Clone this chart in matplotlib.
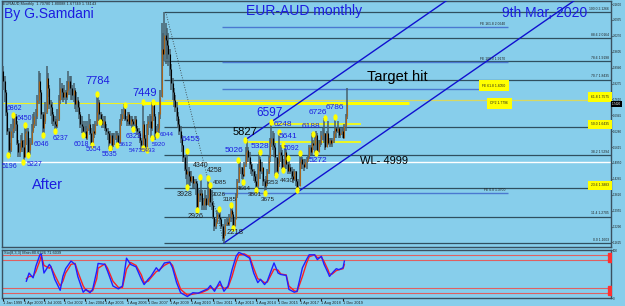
import matplotlib
matplotlib.use("Agg")
import matplotlib.pyplot as plt
import numpy as np
from matplotlib.markers import MarkerStyle
from matplotlib.transforms import Affine2D

plt.rcParams['font.family'] = ['Liberation Sans', 'DejaVu Sans']

# ---- monthly EUR/AUD bars, Jan 1999 .. Mar 2020 (month index 0 = Jan 1999)
first_open = 1.88
closes = [
    1.84, 1.79, 1.71, 1.63, 1.55, 1.55, 1.63, 1.64, 1.69, 1.66, 1.58, 1.54,   # 1999
    1.56, 1.59, 1.56, 1.52, 1.62, 1.63, 1.54, 1.55, 1.58, 1.63, 1.66, 1.69,   # 2000
    1.69, 1.76, 1.84, 1.79, 1.70, 1.64, 1.67, 1.71, 1.85, 1.81, 1.74, 1.73,   # 2001
    1.70, 1.67, 1.66, 1.65, 1.68, 1.76, 1.81, 1.79, 1.77, 1.79, 1.77, 1.80,   # 2002
    1.84, 1.81, 1.81, 1.78, 1.80, 1.74, 1.76, 1.73, 1.70, 1.66, 1.65, 1.63,   # 2003
    1.63, 1.60, 1.64, 1.66, 1.62, 1.58, 1.63, 1.62, 1.66, 1.71, 1.75, 1.70,   # 2004
    1.68, 1.66, 1.67, 1.64, 1.63, 1.62, 1.58, 1.61, 1.57, 1.60, 1.60, 1.61,   # 2005
    1.61, 1.58, 1.66, 1.68, 1.70, 1.72, 1.68, 1.67, 1.70, 1.66, 1.68, 1.67,   # 2006
    1.66, 1.68, 1.64, 1.63, 1.62, 1.59, 1.57, 1.66, 1.60, 1.56, 1.66, 1.67,   # 2007
    1.67, 1.64, 1.74, 1.69, 1.62, 1.63, 1.64, 1.70, 1.77, 1.97, 1.95, 2.03,   # 2008
    2.01, 1.99, 1.95, 1.89, 1.83, 1.79, 1.76, 1.73, 1.69, 1.66, 1.63, 1.60,   # 2009
    1.57, 1.52, 1.47, 1.45, 1.46, 1.44, 1.42, 1.44, 1.41, 1.42, 1.41, 1.31,   # 2010
    1.37, 1.36, 1.37, 1.32, 1.34, 1.35, 1.32, 1.35, 1.39, 1.33, 1.32, 1.27,   # 2011
    1.23, 1.25, 1.28, 1.27, 1.26, 1.23, 1.18, 1.20, 1.24, 1.25, 1.24, 1.27,   # 2012
    1.30, 1.28, 1.23, 1.26, 1.36, 1.42, 1.48, 1.48, 1.45, 1.44, 1.49, 1.54,   # 2013
    1.55, 1.52, 1.49, 1.47, 1.46, 1.44, 1.42, 1.40, 1.47, 1.51, 1.46, 1.48,   # 2014
    1.42, 1.40, 1.41, 1.46, 1.52, 1.58, 1.60, 1.57, 1.56, 1.52, 1.46, 1.49,   # 2015
    1.54, 1.53, 1.48, 1.49, 1.54, 1.49, 1.46, 1.48, 1.46, 1.44, 1.43, 1.46,   # 2016
    1.42, 1.39, 1.40, 1.50, 1.51, 1.49, 1.48, 1.50, 1.51, 1.52, 1.56, 1.54,   # 2017
    1.58, 1.57, 1.60, 1.61, 1.54, 1.58, 1.58, 1.61, 1.61, 1.62, 1.56, 1.62,   # 2018
    1.58, 1.59, 1.58, 1.59, 1.62, 1.64, 1.63, 1.64, 1.61, 1.62, 1.63, 1.60,   # 2019
    1.65, 1.69, 1.742,                                                        # 2020
]
highs = [
    1.90, 1.86, 1.80, 1.72, 1.64, 1.58, 1.66, 1.70, 1.70, 1.70, 1.67, 1.59,
    1.58, 1.61, 1.62, 1.59, 1.66, 1.65, 1.64, 1.59, 1.60, 1.66, 1.70, 1.71,
    1.72, 1.78, 1.88, 1.87, 1.80, 1.71, 1.71, 1.75, 1.90, 1.87, 1.82, 1.76,
    1.75, 1.71, 1.69, 1.68, 1.72, 1.78, 1.85, 1.83, 1.81, 1.82, 1.80, 1.84,
    1.88, 1.86, 1.86, 1.82, 1.83, 1.81, 1.79, 1.77, 1.75, 1.71, 1.69, 1.67,
    1.67, 1.65, 1.67, 1.70, 1.68, 1.64, 1.66, 1.66, 1.67, 1.78, 1.77, 1.76,
    1.71, 1.70, 1.69, 1.69, 1.66, 1.64, 1.63, 1.63, 1.62, 1.62, 1.62, 1.63,
    1.63, 1.62, 1.68, 1.70, 1.72, 1.74, 1.72, 1.69, 1.71, 1.71, 1.69, 1.69,
    1.68, 1.69, 1.69, 1.65, 1.64, 1.63, 1.60, 1.75, 1.67, 1.61, 1.66, 1.69,
    1.70, 1.69, 1.75, 1.74, 1.70, 1.65, 1.66, 1.71, 1.80, 2.08, 2.04, 2.1266,
    2.08, 2.06, 2.04, 1.97, 1.91, 1.85, 1.81, 1.78, 1.75, 1.71, 1.68, 1.65,
    1.61, 1.57, 1.53, 1.49, 1.55, 1.48, 1.46, 1.46, 1.44, 1.43, 1.43, 1.42,
    1.39, 1.38, 1.43, 1.38, 1.35, 1.38, 1.36, 1.43, 1.41, 1.40, 1.38, 1.33,
    1.27, 1.26, 1.30, 1.30, 1.30, 1.27, 1.24, 1.21, 1.26, 1.27, 1.26, 1.28,
    1.32, 1.32, 1.29, 1.27, 1.37, 1.43, 1.50, 1.50, 1.48, 1.47, 1.50, 1.56,
    1.59, 1.56, 1.54, 1.50, 1.49, 1.47, 1.46, 1.45, 1.49, 1.54, 1.52, 1.50,
    1.47, 1.43, 1.44, 1.47, 1.53, 1.60, 1.666, 1.63, 1.62, 1.58, 1.52, 1.51,
    1.62, 1.57, 1.55, 1.51, 1.57, 1.55, 1.50, 1.51, 1.49, 1.48, 1.46, 1.47,
    1.46, 1.42, 1.43, 1.54, 1.53, 1.52, 1.51, 1.51, 1.52, 1.53, 1.57, 1.57,
    1.62, 1.59, 1.61, 1.63, 1.62, 1.59, 1.59, 1.63, 1.64, 1.683, 1.62, 1.63,
    1.67, 1.60, 1.60, 1.60, 1.63, 1.687, 1.64, 1.67, 1.64, 1.64, 1.64, 1.64,
    1.66, 1.70, 1.81,
]
lows = [
    1.80, 1.75, 1.69, 1.61, 1.53, 1.52, 1.54, 1.60, 1.62, 1.63, 1.57, 1.52,
    1.52, 1.55, 1.54, 1.50, 1.52, 1.57, 1.53, 1.53, 1.53, 1.57, 1.62, 1.64,
    1.65, 1.68, 1.74, 1.76, 1.68, 1.60, 1.62, 1.66, 1.70, 1.77, 1.72, 1.69,
    1.66, 1.65, 1.63, 1.62, 1.64, 1.67, 1.74, 1.76, 1.75, 1.76, 1.74, 1.76,
    1.78, 1.78, 1.76, 1.76, 1.75, 1.72, 1.71, 1.71, 1.68, 1.64, 1.62, 1.61,
    1.61, 1.60, 1.59, 1.63, 1.61, 1.57, 1.58, 1.60, 1.61, 1.65, 1.67, 1.67,
    1.66, 1.64, 1.64, 1.63, 1.61, 1.59, 1.555, 1.58, 1.55, 1.56, 1.57, 1.59,
    1.57, 1.56, 1.58, 1.65, 1.67, 1.68, 1.67, 1.65, 1.66, 1.65, 1.65, 1.64,
    1.63, 1.65, 1.63, 1.61, 1.60, 1.58, 1.55, 1.56, 1.59, 1.55, 1.55, 1.61,
    1.64, 1.60, 1.63, 1.67, 1.59, 1.60, 1.60, 1.62, 1.68, 1.77, 1.90, 1.92,
    1.91, 1.93, 1.90, 1.86, 1.80, 1.76, 1.73, 1.71, 1.67, 1.64, 1.61, 1.58,
    1.54, 1.50, 1.46, 1.43, 1.39, 1.40, 1.40, 1.41, 1.39, 1.39, 1.36, 1.29,
    1.30, 1.33, 1.34, 1.30, 1.30, 1.32, 1.30, 1.32, 1.33, 1.31, 1.30, 1.26,
    1.21, 1.22, 1.24, 1.26, 1.24, 1.22, 1.17, 1.1603, 1.19, 1.23, 1.23, 1.23,
    1.25, 1.26, 1.22, 1.23, 1.26, 1.35, 1.41, 1.45, 1.43, 1.40, 1.44, 1.48,
    1.50, 1.50, 1.47, 1.45, 1.44, 1.42, 1.41, 1.38, 1.39, 1.46, 1.43, 1.45,
    1.40, 1.37, 1.38, 1.40, 1.45, 1.50, 1.56, 1.55, 1.52, 1.44, 1.44, 1.45,
    1.48, 1.50, 1.47, 1.46, 1.47, 1.47, 1.45, 1.46, 1.45, 1.43, 1.41, 1.42,
    1.40, 1.38, 1.38, 1.40, 1.47, 1.47, 1.46, 1.48, 1.47, 1.50, 1.51, 1.53,
    1.53, 1.55, 1.537, 1.59, 1.53, 1.54, 1.56, 1.57, 1.59, 1.58, 1.55, 1.56,
    1.57, 1.56, 1.57, 1.56, 1.58, 1.60, 1.60, 1.62, 1.60, 1.60, 1.61, 1.60,
    1.60, 1.63, 1.68,
]

# ---- yellow swing markers (month index, price)
marker_months = [3.4, 7.1, 16.0, 14.5, 18.2, 29.3, 38.1, 58.8, 65.5, 69.2, 71.4, 78.8,
                 84.0, 89.9, 95.8, 103.4, 110.5, 103.4, 106.1, 109.8, 113.5, 135.7,
                 135.7, 143.1, 145.3, 151.2, 152.7, 159.3, 168.2, 169.7, 173.4, 178.6,
                 177.1, 189.7, 186.7, 193.3, 197.8, 203.7, 206.6, 201.5, 206.6, 210.3,
                 217.0, 219.2, 228.8, 231.0, 237.7, 245.1]
marker_prices = [1.528, 1.696, 1.654, 1.499, 1.528, 1.612, 1.629, 1.612, 1.570, 1.784,
                 1.667, 1.558, 1.570, 1.738, 1.637, 1.750, 1.750, 1.558, 1.549, 1.600,
                 1.612, 1.545, 1.395, 1.298, 1.436, 1.432, 1.403, 1.302, 1.319, 1.223,
                 1.507, 1.591, 1.415, 1.541, 1.382, 1.369, 1.666, 1.625, 1.570, 1.445,
                 1.466, 1.516, 1.382, 1.537, 1.616, 1.537, 1.683, 1.687]

# ---- Fibonacci retracement 2008 high -> 2012 low
fib_low, fib_high = 1.1603, 2.1266
fib_ratios = [0.0, 11.4, 23.6, 38.2, 50.0, 61.8, 70.7, 78.6, 88.6, 100.0]
fib_marked = [23.6, 50.0, 61.8]

# ---- Fibonacci expansion levels
fe_names = ["FE 161.8", "FE 100.0", "FE 61.8", "FE 0.0"]
fe_prices = [2.0640, 1.9170, 1.8050, 1.3700]

# ---- other levels
wl_price = 1.4999
yellow_levels = [1.7449, 1.6597, 1.5827]
yellow_from = [104, 198, 179]

# ---- trend channel anchors
chan_months = [163.0, 178.6]
chan_prices = [1.1603, 1.5910]
chan_slope = 0.003917           # price per month

# ---- stochastic (8,3,3)
sto_m = [17, 19, 22, 24, 27, 28, 30, 34, 35, 38, 42, 44, 46, 50, 53, 55, 59, 61, 64, 66,
         69, 70, 75, 77, 81, 85, 88, 91, 94, 98, 102, 104, 107, 109, 113, 115, 119, 123, 125, 128,
         131, 136, 140, 144, 147, 151, 153, 156, 160, 163, 166, 169, 172, 174, 178, 182, 185, 188, 190, 193,
         195, 200, 203, 205, 209, 211, 215, 217, 221, 224, 226, 230, 232, 235, 237, 240, 241, 243, 246, 248,
         251, 252]
sto_main = [35, 52, 42, 66, 90, 92, 52, 70, 66, 39, 16, 45, 61, 77, 70, 45, 12, 18, 11, 18,
            56, 72, 70, 56, 25, 19, 25, 83, 70, 65, 39, 28, 39, 45, 63, 56, 73, 75, 63, 32,
            11, 3, 11, 10, 14, 19, 26, 14, 35, 14, 25, 59, 87, 95, 90, 83, 52, 32, 39, 28,
            35, 73, 52, 49, 47, 18, 12, 14, 63, 80, 90, 90, 80, 87, 70, 52, 45, 52, 61, 59,
            63, 77]
sto_signal = [40, 45, 45, 55, 78, 88, 68, 62, 66, 48, 25, 35, 52, 70, 72, 55, 25, 16, 14, 15,
              40, 62, 71, 62, 35, 22, 22, 60, 74, 68, 48, 32, 35, 42, 55, 58, 68, 74, 68, 42,
              18, 6, 8, 10, 12, 17, 22, 18, 28, 20, 22, 45, 75, 90, 92, 86, 62, 40, 38, 32,
              33, 60, 58, 50, 48, 25, 15, 13, 45, 72, 86, 90, 84, 85, 76, 58, 50, 50, 57, 59,
              61, 70]
sto_levels = [90, 80, 20, 10]

tick_months = [0, 15, 30, 45, 60, 75, 91, 107, 123, 139, 155, 171, 187, 203, 219, 235, 251]
tick_labels = ["1 Jan 1999", "1 Apr 2000", "1 Jul 2001", "1 Oct 2002", "1 Jan 2004",
               "1 Apr 2005", "1 Aug 2006", "1 Dec 2007", "1 Apr 2009", "1 Aug 2010",
               "1 Dec 2011", "1 Apr 2013", "1 Aug 2014", "1 Dec 2015", "1 Apr 2017",
               "1 Aug 2018", "1 Dec 2019"]

# ---------------------------------------------------------------- drawing
BG = '#87CEEB'
BLUE = '#1c1ce0'
FIBC = '#2f4f5f'
W, H = 625, 306
XMAX = 449

fig = plt.figure(figsize=(W / 100, H / 100), dpi=100)
fig.patch.set_facecolor(BG)
ax = fig.add_axes([2 / W, 59 / H, 609 / W, 246 / H], facecolor=BG)
sub = fig.add_axes([2 / W, 8 / H, 609 / W, 48 / H], facecolor=BG)

top = fib_high + 11 * (fib_high - fib_low) / 231
bot = fib_low - 4 * (fib_high - fib_low) / 231
ax.set_xlim(-1, XMAX)
ax.set_ylim(bot, top)


def at(x, y):
    # screenshot pixel -> main axes fraction
    return (x - 2) / 609, 1 - (y - 1) / 246


closes = np.array(closes)
months = np.arange(len(closes))
opens = np.r_[first_open, closes[:-1]]

# fib lines
fib_prices = [fib_low + r / 100 * (fib_high - fib_low) for r in fib_ratios]
for r, p in zip(fib_ratios, fib_prices):
    col = '#d8d860' if r == 61.8 else FIBC
    ax.hlines(p, 119, XMAX, color=col, lw=0.9, zorder=1)
    box = dict(fc='yellow', ec='none', pad=2.0) if r in fib_marked else None
    ax.text(XMAX - 1.5, p + 0.005, f"{r:.1f} {p:.4f}", fontsize=2.4, color='#202020',
            ha='right', va='bottom', bbox=box, zorder=5)

# FE lines
for name, p in zip(fe_names, fe_prices):
    ax.hlines(p, 161.6, 373, color='#4a78d0', lw=1.0, zorder=1)
    box = dict(fc='yellow', ec='none', pad=2.5) if name == "FE 61.8" else None
    ax.text(371, p + 0.005, f"{name} {p:.4f}", fontsize=2.4, color='#202020',
            ha='right', va='bottom', bbox=box, zorder=5)
ax.text(373, 1.745, "CP2 1.7796", fontsize=2.4, color='#202020', ha='right', va='center',
        bbox=dict(fc='yellow', ec='none', pad=2.5), zorder=5)

# white WL line, yellow levels
ax.axhline(wl_price, color='white', lw=1.0, zorder=1)
ax.hlines(yellow_levels[0], -1, yellow_from[0], color='#f0f020', lw=0.8, zorder=2)
ax.hlines(yellow_levels[0], yellow_from[0], 300, color='#ffff00', lw=2.2, zorder=2)
for p, m0 in zip(yellow_levels[1:], yellow_from[1:]):
    ax.hlines(p, m0, 264, color='#ffff00', lw=1.2, zorder=2)

# dotted line peak -> low, channel
ax.plot([120, 163], [fib_high, fib_low], ls=(0, (1, 2)), color='#303030', lw=0.6, zorder=2)
for m0, p0 in zip(chan_months, chan_prices):
    ax.plot([m0, XMAX], [p0, p0 + chan_slope * (XMAX - m0)], color='#1010d0', lw=1.0, zorder=3)

# bars
ax.vlines(months, lows, highs, color='#46606c', lw=1.1, zorder=3)
up = closes >= opens
ax.vlines(months[up], opens[up], closes[up], color='#a8651c', lw=0.8, zorder=4)
ax.vlines(months[~up], closes[~up], opens[~up], color='black', lw=0.8, zorder=4)

# swing markers
oval = MarkerStyle('o', transform=Affine2D().scale(0.65, 1.0))
ax.scatter(marker_months, marker_prices, s=22, marker=oval, color='#ffff00', lw=0, zorder=6)

# marker labels (text, screenshot x, y, size, colour)
labels = [
    ("7784", 97.5, 81, 8, BLUE), ("7449", 144.5, 92.5, 8, BLUE),
    ("6597", 269.5, 112.5, 8.5, BLUE), ("5827", 245, 132, 8, 'black'),
    ("6862", 14.5, 108.5, 5, BLUE), ("6450", 24.5, 118.5, 5, BLUE),
    ("5196", 10, 166.5, 5, BLUE), ("5227", 35, 164.5, 5, BLUE),
    ("6046", 41.5, 144, 5, BLUE), ("6237", 60.5, 138, 5, BLUE),
    ("6018", 81.5, 144, 5, BLUE), ("5654", 93.5, 149.5, 5, BLUE),
    ("5535", 109.5, 154.5, 5, BLUE), ("5612", 125.5, 144.5, 4.5, BLUE),
    ("6323", 134, 137, 5, BLUE), ("5473", 135.5, 151, 4.5, BLUE),
    ("5493", 149, 151, 4.5, BLUE), ("5920", 159, 145, 4.5, BLUE),
    ("6044", 166.5, 135, 4.5, BLUE), ("6455", 190.5, 139.5, 6, BLUE),
    ("5026", 234.5, 150.5, 6, BLUE), ("5328", 260, 146.5, 6, BLUE),
    ("6248", 283, 125, 6, BLUE), ("5641", 288.5, 136, 6, BLUE),
    ("5092", 292, 149, 5, BLUE), ("6188", 310.5, 126, 6, BLUE),
    ("5272", 317.5, 160.5, 6, BLUE), ("6726", 317.5, 113, 6, BLUE),
    ("6786", 335, 107.5, 6, BLUE),
    ("4340", 200.5, 165.5, 5, '#202020'), ("3928", 185, 195, 5, '#202020'),
    ("2926", 195.5, 217, 5, '#202020'), ("4258", 215, 170.5, 5, '#202020'),
    ("4085", 220, 182, 4.5, '#202020'), ("3026", 218.5, 194, 4.5, '#202020'),
    ("3185", 229.5, 199.5, 4.5, '#202020'), ("2218", 235.5, 232.5, 5.5, '#202020'),
    ("4664", 244, 189, 4.5, '#202020'), ("3801", 255, 195, 4.5, '#202020'),
    ("3675", 267.5, 199.5, 4.5, '#202020'), ("4353", 271.5, 182.5, 4.5, '#202020'),
    ("4430", 286.5, 181, 4.5, '#202020'),
]
for t, x, y, s, c in labels:
    ax.text(*at(x, y), t, transform=ax.transAxes, fontsize=s, color=c,
            ha='center', va='center', zorder=7)

# headline texts
ax.text(*at(4, 14), "By G.Samdani", transform=ax.transAxes, fontsize=10, color=BLUE,
        ha='left', va='center', zorder=8)
ax.text(*at(304, 11), "EUR-AUD monthly", transform=ax.transAxes, fontsize=10, color=BLUE,
        ha='center', va='center', zorder=8)
ax.text(*at(545, 13), "9th Mar, 2020", transform=ax.transAxes, fontsize=10, color=BLUE,
        ha='center', va='center', zorder=8)
ax.text(*at(367, 77), "Target hit", transform=ax.transAxes, fontsize=10.5, color='black',
        ha='left', va='center', zorder=8)
ax.text(*at(32, 185), "After", transform=ax.transAxes, fontsize=10.5, color=BLUE,
        ha='left', va='center', zorder=8)
ax.text(*at(360, 161), "WL- 4999", transform=ax.transAxes, fontsize=8, color='black',
        ha='left', va='center', zorder=8)
ax.text(*at(3, 4), "EURAUD,Monthly  1.70780 1.80088 1.67749 1.74143", transform=ax.transAxes,
        fontsize=2.8, color='#202020', ha='left', va='center', zorder=8)

# price axis on the right (small enough to fit the 14 px margin)
ax.yaxis.tick_right()
ax.set_yticks(np.arange(1.1625, top, 0.0665))
ax.yaxis.set_major_formatter(matplotlib.ticker.FormatStrFormatter('%.4f'))
ax.tick_params(axis='y', labelsize=2.2, length=1.0, pad=0.6, colors='#202020')
ax.set_xticks([])
ax.text(1.002, closes[-1], f"{closes[-1]:.4f}", transform=ax.get_yaxis_transform(),
        fontsize=2.2, color='white', ha='left', va='center',
        bbox=dict(fc='black', ec='none', pad=0.6), zorder=9, clip_on=False)

# stochastic panel
sub.set_xlim(-1, XMAX)
sub.set_ylim(0, 100)
for lv in sto_levels:
    sub.axhline(lv, color='#e06060', lw=0.8, zorder=1)
sub.plot(sto_m, sto_signal, color='#ff2020', lw=1.0, zorder=2)
sub.plot(sto_m, sto_main, color='#2020ff', lw=1.0, zorder=3)
sub.plot([XMAX - 1] * 4, sto_levels, 's', color='#ff3030', ms=2.2, zorder=4)
sub.text(0.003, 0.97, "Sto(8,3,3) Main:80.6326 71.6039", transform=sub.transAxes,
         fontsize=2.8, color='#202020', ha='left', va='top')
sub.yaxis.tick_right()
sub.set_yticks([0, 100])
sub.tick_params(axis='y', labelsize=2.2, length=1.0, pad=0.6, colors='#202020')
sub.set_xticks(tick_months)
sub.set_xticklabels(tick_labels, ha='left')
sub.tick_params(axis='x', labelsize=2.8, length=2, pad=0.5, colors='#202020')

for a in (ax, sub):
    for s in a.spines.values():
        s.set_color('#3a5060')
        s.set_linewidth(1.0)

fig.savefig("out.png", dpi=100, facecolor=BG)
